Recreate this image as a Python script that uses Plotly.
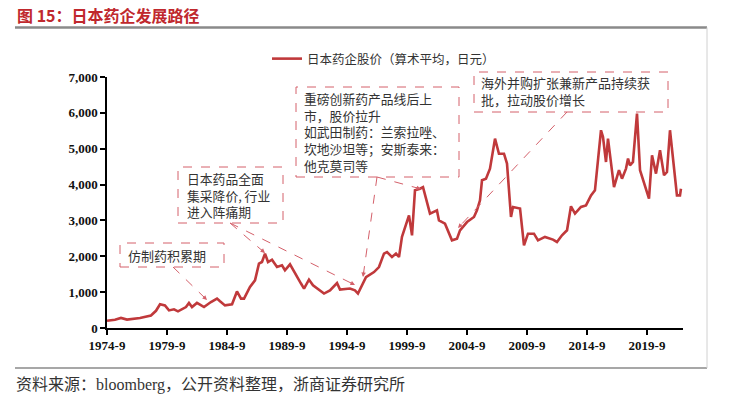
import plotly.graph_objects as go

# ---------------- data ----------------
dates = [
    "1974-09", "1975-05", "1975-11", "1976-05", "1977-06", "1977-12", "1978-05", "1978-10",
    "1979-02", "1979-07", "1979-11", "1980-04", "1980-08", "1981-04", "1981-07", "1981-10",
    "1982-03", "1982-06", "1982-10", "1983-05", "1983-11", "1984-02", "1984-07", "1985-02",
    "1985-07", "1985-11", "1986-02", "1986-08", "1987-01", "1987-05", "1987-08", "1987-11",
    "1988-02", "1988-06", "1988-11", "1989-04", "1989-07", "1989-12", "1990-05", "1990-11",
    "1991-02", "1991-07", "1991-11", "1992-10", "1993-04", "1993-11", "1994-02", "1994-12",
    "1995-05", "1995-08", "1996-04", "1996-12", "1997-05", "1997-10", "1998-01", "1998-06",
    "1998-10", "1999-01", "1999-04", "1999-07", "1999-11", "2000-02", "2000-05", "2000-10",
    "2001-01", "2001-08", "2002-03", "2002-05", "2002-11", "2003-06", "2003-11", "2004-02",
    "2004-09", "2005-04", "2005-07", "2005-10", "2005-12", "2006-04", "2006-08", "2007-01",
    "2007-05", "2007-10", "2008-01", "2008-05", "2008-07", "2009-02", "2009-06", "2009-10",
    "2010-04", "2010-08", "2011-03", "2011-11", "2012-03", "2012-08", "2013-01", "2013-05",
    "2013-09", "2014-03", "2014-08", "2015-01", "2015-05", "2015-11", "2016-01", "2016-04",
    "2016-06", "2016-12", "2017-05", "2017-08", "2017-12", "2018-02", "2018-04", "2018-07",
    "2018-11", "2019-02", "2019-11", "2020-02", "2020-06", "2020-10", "2021-02", "2021-05",
    "2021-08", "2022-03", "2022-06", "2022-07",
]
prices = [
    200, 230, 280, 235, 280, 320, 350, 480,
    660, 630, 490, 520, 465, 585, 700, 585,
    700, 650, 585, 725, 820, 745, 630, 660,
    1020, 820, 820, 1145, 1330, 1795, 1840, 2075,
    1840, 1905, 1700, 1750, 1610, 1775, 1515, 1240,
    1100, 1350, 1190, 960, 1050, 1255, 1070, 1100,
    1050, 960, 1420, 1560, 1700, 2075, 2120, 1980,
    2075, 1980, 2540, 2815, 3140, 2585, 3840, 3885,
    3930, 3190, 3280, 3000, 2910, 2445, 2490, 2725,
    2955, 3095, 3280, 3560, 4120, 4165, 4445, 5280,
    4860, 4860, 4585, 3095, 3375, 3330, 2305, 2630,
    2630, 2445, 2540, 2465, 2400, 2585, 2725, 3395,
    3190, 3375, 3420, 3700, 3840, 5515, 5325, 4630,
    5280, 3930, 4400, 4165, 4445, 4725, 4535, 4630,
    5980, 4400, 3610, 4815, 4305, 4955, 4260, 4350,
    5515, 3700, 3700, 3885,
]
series_name = "日本药企股价（算术平均，日元）"
tick_dates = ["1974-09-01", "1979-09-01", "1984-09-01", "1989-09-01", "1994-09-01",
              "1999-09-01", "2004-09-01", "2009-09-01", "2014-09-01", "2019-09-01"]
tick_labels = ["1974-9", "1979-9", "1984-9", "1989-9", "1994-9",
               "1999-9", "2004-9", "2009-9", "2014-9", "2019-9"]
y_ticks = [0, 1000, 2000, 3000, 4000, 5000, 6000, 7000]

title_text = "图 15：日本药企发展路径"
source_text = "资料来源：bloomberg，公开资料整理，浙商证券研究所"
notes = [
    "仿制药积累期",
    "日本药品全面<br>集采降价, 行业<br>进入阵痛期",
    "重磅创新药产品线后上<br>市，股价拉升<br>如武田制药：兰索拉唑、<br>坎地沙坦等；安斯泰来：<br>他克莫司等",
    "海外并购扩张兼新产品持续获<br>批，拉动股价增长",
]

# ---------------- layout geometry (pixels, page coordinates) ----------------
OFF = 8                      # page body margin of the html page
W, H = 733 - OFF, 399 - OFF  # figure size
ML, MR, MT, MB = 107 - OFF, 50, 77 - OFF, 71
PW, PH = W - ML - MR, H - MT - MB
RED = "#C0393B"
BOXC = "#D4606A"
SERIF = "Liberation Serif, Times New Roman, serif"
CJK = "Noto Sans CJK SC, sans-serif"


def px(x, y):
    """page pixel -> paper coordinates"""
    x -= OFF
    y -= OFF
    return (x - ML) / PW, (H - MB - y) / PH


fig = go.Figure()
fig.add_trace(go.Scatter(
    x=dates, y=prices, mode="lines", name=series_name,
    line=dict(color=RED, width=2.6),
))

shapes = []
annotations = []

# note boxes: (x0, y0, x1, y1, text_x, text_y_center, font size)
boxes = [
    (120, 243, 224, 267, 127, 255, 13),
    (178, 167, 283, 223, 186, 195, 12.8),
    (296, 87, 459, 177, 303, 131.5, 12.8),
    (474, 72, 668, 112, 480, 91.5, 13),
]
for (x0, y0, x1, y1, tx, ty, fs), txt in zip(boxes, notes):
    a0 = px(x0, y0)
    a1 = px(x1, y1)
    shapes.append(dict(type="rect", xref="paper", yref="paper",
                       x0=a0[0], y0=a1[1], x1=a1[0], y1=a0[1],
                       line=dict(color=BOXC, width=1, dash="dash"),
                       fillcolor="rgba(0,0,0,0)"))
    t = px(tx, ty)
    annotations.append(dict(xref="paper", yref="paper", x=t[0], y=t[1],
                            xanchor="left", yanchor="middle", align="left",
                            text=txt, showarrow=False, borderpad=0,
                            font=dict(family=CJK, size=fs, color="#333333")))

# arrows: start -> end (page pixels)
arrows = [
    ((173, 267), (207, 300)),
    ((230, 223), (265, 253)),
    ((230, 223), (355, 285)),
    ((377, 177), (363, 277)),
    ((377, 177), (421, 189)),
    ((567, 112), (458, 228)),
]
for (sx, sy), (ex, ey) in arrows:
    s = px(sx, sy)
    e = px(ex, ey)
    shapes.append(dict(type="line", xref="paper", yref="paper",
                       x0=s[0], y0=s[1], x1=e[0], y1=e[1],
                       line=dict(color=BOXC, width=1, dash="dash")))
    dx, dy = ex - sx, ey - sy
    L = (dx * dx + dy * dy) ** 0.5
    annotations.append(dict(xref="paper", yref="paper", x=e[0], y=e[1],
                            ax=-dx / L * 7, ay=-dy / L * 7, text="",
                            showarrow=True, arrowhead=2, arrowsize=0.9,
                            arrowwidth=1, arrowcolor=BOXC))

# frame lines
tl = px(15, 27.5)
tr = px(707, 27.5)
shapes.append(dict(type="line", xref="paper", yref="paper", x0=tl[0], y0=tl[1],
                   x1=tr[0], y1=tr[1], line=dict(color="#8a8a8a", width=2.5)))
bl = px(15, 368)
br = px(707, 368)
shapes.append(dict(type="line", xref="paper", yref="paper", x0=bl[0], y0=bl[1],
                   x1=br[0], y1=br[1], line=dict(color="#8a8a8a", width=1.5)))
shapes.append(dict(type="line", xref="paper", yref="paper", x0=tr[0], y0=tr[1],
                   x1=br[0], y1=br[1], line=dict(color="#d0d0d0", width=1)))

t = px(16, 14.5)
annotations.append(dict(xref="paper", yref="paper", x=t[0], y=t[1],
                        xanchor="left", yanchor="middle", showarrow=False,
                        text="<b>" + title_text + "</b>", borderpad=0,
                        font=dict(family=CJK, size=16, color="#C0282D")))
s = px(15, 385)
annotations.append(dict(xref="paper", yref="paper", x=s[0], y=s[1],
                        xanchor="left", yanchor="middle", showarrow=False,
                        text=source_text, borderpad=0,
                        font=dict(family="Liberation Serif, " + CJK, size=16, color="#333333")))

lg = px(267, 59)
fig.update_layout(
    width=W, height=H,
    margin=dict(l=ML, r=MR, t=MT, b=MB),
    paper_bgcolor="white", plot_bgcolor="white",
    showlegend=True,
    legend=dict(x=lg[0], y=lg[1], xanchor="left", yanchor="middle",
                orientation="h", bgcolor="rgba(0,0,0,0)",
                font=dict(family=CJK, size=12.5, color="#333333"),
                itemwidth=30),
    shapes=shapes,
    annotations=annotations,
    xaxis=dict(
        type="date", range=["1974-09-01", "2022-09-01"],
        tickvals=tick_dates, ticktext=tick_labels,
        showgrid=False, zeroline=False,
        showline=True, linecolor="black", linewidth=1.5,
        ticks="outside", ticklen=5, tickcolor="black", tickwidth=1.5,
        tickfont=dict(family=SERIF, size=13, color="#111111", weight="bold"),
    ),
    yaxis=dict(
        range=[0, 7000], tickvals=y_ticks, tickformat=",",
        showgrid=False, zeroline=False,
        showline=True, linecolor="black", linewidth=1.5,
        ticks="outside", ticklen=5, tickcolor="black", tickwidth=1.5,
        tickfont=dict(family=SERIF, size=13, color="#111111", weight="bold"),
    ),
)

fig.write_html("out.html")
